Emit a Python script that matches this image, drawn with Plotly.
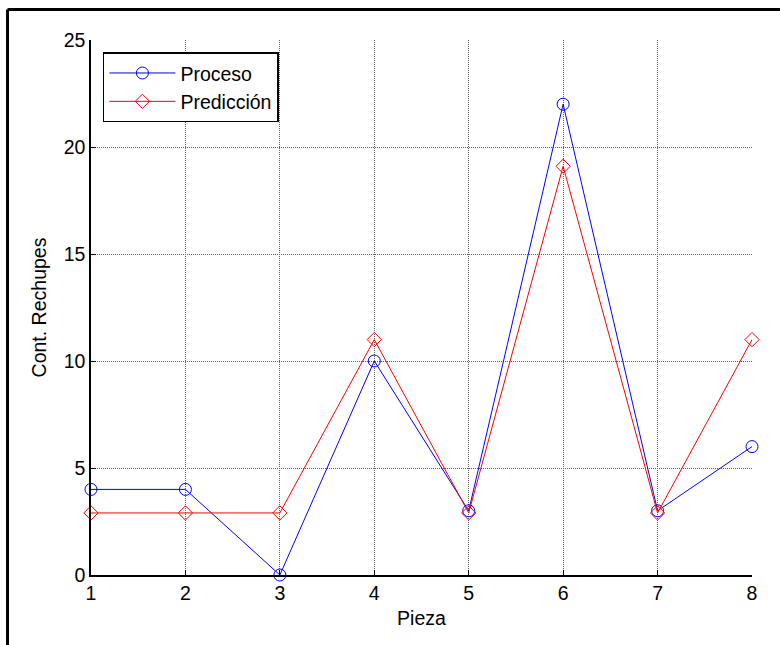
import plotly.graph_objects as go

pieza = [1, 2, 3, 4, 5, 6, 7, 8]
proceso = [4, 4, 0, 10, 3, 22, 3, 6]
prediccion = [2.9, 2.9, 2.9, 11, 2.9, 19.1, 2.9, 11]
x_ticks = [1, 2, 3, 4, 5, 6, 7, 8]
y_ticks = [0, 5, 10, 15, 20, 25]

FONT = "Liberation Sans, Arial, sans-serif"
FS = 19.5

fig = go.Figure()
fig.add_trace(go.Scatter(
    x=pieza, y=proceso, name="Proceso", mode="lines+markers",
    line=dict(color="#0000ff", width=1),
    marker=dict(symbol="circle-open", size=12, color="#0000ff", line=dict(width=1)),
    cliponaxis=False,
))
fig.add_trace(go.Scatter(
    x=pieza, y=prediccion, name="Predicción", mode="lines+markers",
    line=dict(color="#ff0000", width=1),
    marker=dict(symbol="diamond-open", size=11, color="#ff0000", line=dict(width=1)),
    cliponaxis=False,
))

axis_common = dict(
    showgrid=True, gridcolor="rgb(95,95,95)", griddash="1px,1px", gridwidth=1,
    zeroline=False, showline=True, linecolor="black", linewidth=1.5,
    ticks="inside", ticklen=5, tickcolor="black",
    tickfont=dict(family=FONT, size=FS, color="black"),
)

fig.update_layout(
    width=780, height=645,
    margin=dict(l=91, r=28, t=40, b=70),
    paper_bgcolor="white", plot_bgcolor="white",
    font=dict(family=FONT, size=FS, color="black"),
    xaxis=dict(range=[1, 8], tickvals=x_ticks,
               title=dict(text="Pieza", standoff=8,
                          font=dict(family=FONT, size=FS)),
               **axis_common),
    yaxis=dict(range=[0, 25], tickvals=y_ticks,
               title=dict(text="Cont. Rechupes", standoff=12,
                          font=dict(family=FONT, size=FS)),
               **axis_common),
    legend=dict(x=0.018, y=0.977, xanchor="left", yanchor="top",
                bgcolor="white", bordercolor="black", borderwidth=1.5,
                font=dict(family=FONT, size=FS, color="black"),
                itemwidth=66, tracegroupgap=0),
    showlegend=True,
    shapes=[
        dict(type="line", xref="paper", yref="paper",
             x0=-0.1263, x1=-0.1263, y0=-0.3, y1=1.057,
             line=dict(color="black", width=3)),
        dict(type="line", xref="paper", yref="paper",
             x0=-0.1263, x1=1.2, y0=1.057, y1=1.057,
             line=dict(color="black", width=3)),
    ],
)

fig.write_html("out.html")
